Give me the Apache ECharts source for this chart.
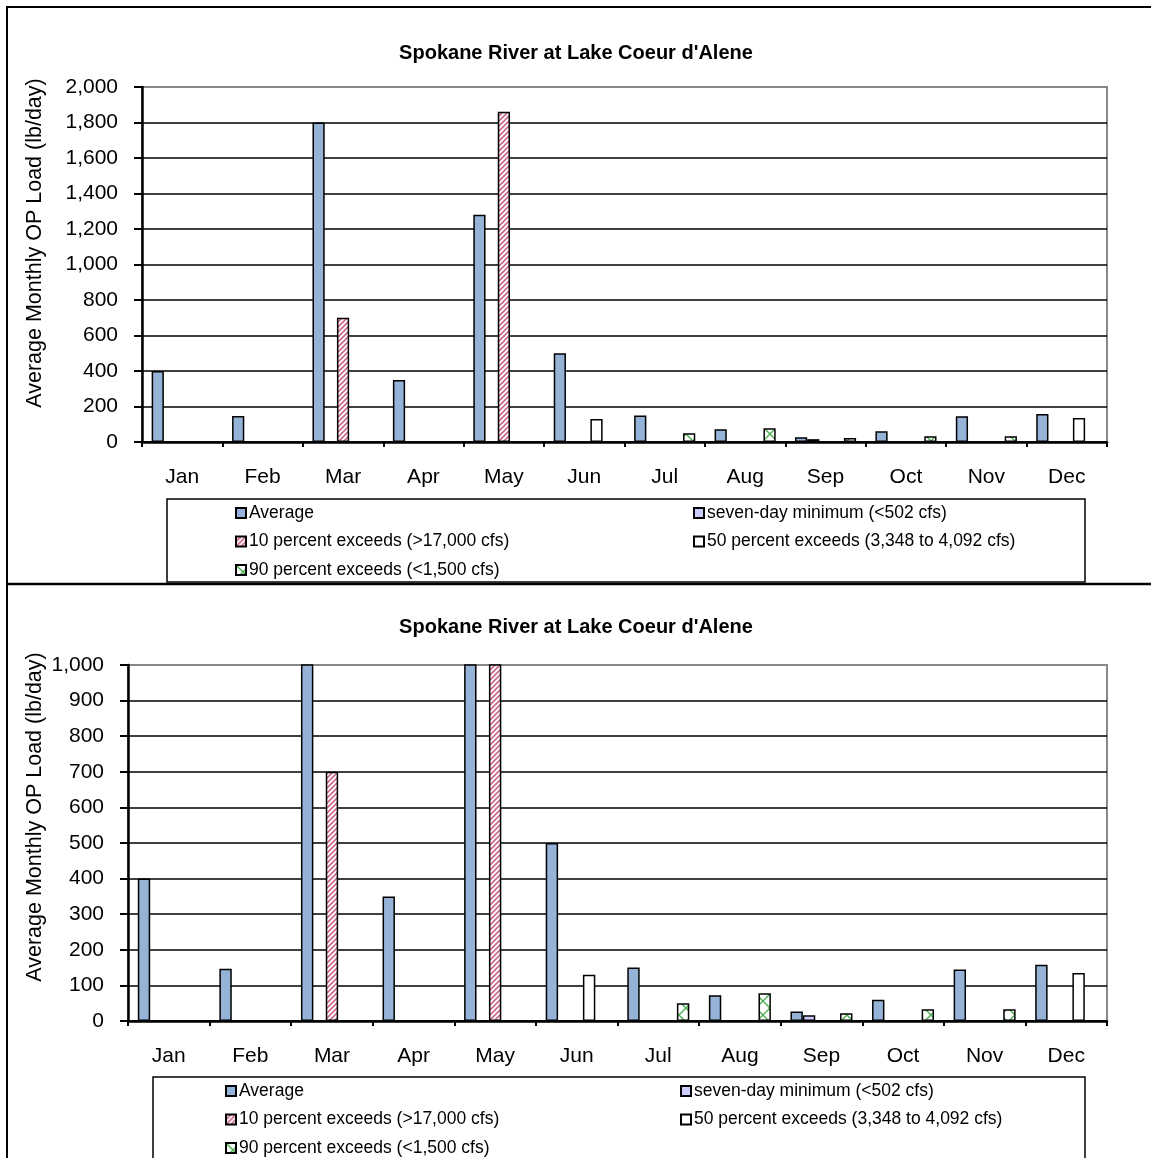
<!DOCTYPE html>
<html>
<head>
<meta charset="utf-8">
<script src="https://cdn.jsdelivr.net/npm/echarts@6/dist/echarts.min.js"></script>
<style>
  html, body { margin: 0; padding: 0; background: #fff; }
  #chart { width: 1151px; height: 1158px; }
</style>
</head>
<body>
<div id="chart"></div>
<script>
var months = ['Jan', 'Feb', 'Mar', 'Apr', 'May', 'Jun', 'Jul', 'Aug', 'Sep', 'Oct', 'Nov', 'Dec'];
var average = [400, 147, 1800, 350, 1280, 500, 150, 72, 27, 60, 145, 158];
var sevenDay = [null, null, null, null, null, null, null, null, 16, null, null, null];
var tenPct = [null, null, 700, null, 1860, null, null, null, null, null, null, null];
var fiftyPct = [null, null, null, null, null, 130, null, null, null, null, null, 135];
var ninetyPct = [null, null, null, null, null, null, 50, 78, 22, 33, 33, null];
var seriesNames = [
  'Average',
  'seven-day minimum (<502 cfs)',
  '10 percent exceeds (>17,000 cfs)',
  '50 percent exceeds (3,348 to 4,092 cfs)',
  '90 percent exceeds (<1,500 cfs)'
];
var titleText = "Spokane River at Lake Coeur d'Alene";
var yName = 'Average Monthly OP Load (lb/day)';

var FONT = '"Liberation Sans", Arial, sans-serif';
var myChart = echarts.init(document.getElementById('chart'));

// hatch fills like the excel patterns
function hatch(kind) {
  var c = document.createElement('canvas');
  var s = kind == 'red' ? 5 : 14;
  c.width = s; c.height = s;
  var ctx = c.getContext('2d');
  ctx.fillStyle = '#fff';
  ctx.fillRect(0, 0, s, s);
  if (kind == 'red') {
    ctx.strokeStyle = '#cc6688';
    ctx.lineWidth = 1.6;
    ctx.beginPath();
    ctx.moveTo(-1, s + 1); ctx.lineTo(s + 1, -1);
    ctx.moveTo(-1, 1); ctx.lineTo(1, -1);
    ctx.moveTo(s - 1, s + 1); ctx.lineTo(s + 1, s - 1);
    ctx.stroke();
  } else {
    ctx.strokeStyle = '#4caf50';
    ctx.lineWidth = 1.4;
    ctx.beginPath();
    ctx.moveTo(0, 0); ctx.lineTo(s, s);
    ctx.moveTo(0, s); ctx.lineTo(s, 0);
    ctx.stroke();
  }
  return c;
}

var fills = [
  '#95b3d7',
  '#ccccff',
  { image: hatch('red'), repeat: 'repeat' },
  '#ffffff',
  { image: hatch('green'), repeat: 'repeat' }
];
var dataSets = [average, sevenDay, tenPct, fiftyPct, ninetyPct];

function makeSeries(idx) {
  var out = [];
  dataSets.forEach(function (d, i) {
    out.push({
      name: seriesNames[i],
      type: 'bar',
      xAxisIndex: idx,
      yAxisIndex: idx,
      barGap: '0%',
      barCategoryGap: '24%',
      clip: true,
      itemStyle: { color: fills[i], borderColor: '#000', borderWidth: 1.5 },
      data: d
    });
  });
  return out;
}

function xAx(idx) {
  return {
    type: 'category',
    gridIndex: idx,
    data: months,
    axisLine: { lineStyle: { color: '#000', width: 2.5 } },
    axisTick: { show: true, length: 5, lineStyle: { color: '#000', width: 2 } },
    axisLabel: { color: '#000', fontSize: 21, fontFamily: FONT, margin: 25 },
    splitLine: { show: false }
  };
}

function yAx(idx, max, step) {
  return {
    type: 'value',
    gridIndex: idx,
    min: 0,
    max: max,
    interval: step,
    axisLine: { show: true, lineStyle: { color: '#000', width: 2.5 } },
    axisTick: { show: true, length: 8, lineStyle: { color: '#000', width: 2 } },
    axisLabel: {
      color: '#000', fontSize: 21, fontFamily: FONT, margin: 24,
      formatter: function (v) { return v.toLocaleString('en-US'); }
    },
    splitLine: { show: true, showMaxLine: false, lineStyle: { color: '#000', width: 1.5 } }
  };
}

function legendCols(left1, left2, top) {
  var base = {
    orient: 'vertical',
    icon: 'rect',
    itemWidth: 10,
    itemHeight: 10,
    itemGap: 10.5,
    padding: 0,
    selectedMode: false,
    textStyle: { color: '#000', fontSize: 17.5, fontFamily: FONT, padding: [0, 0, 0, -2] }
  };
  return [
    Object.assign({}, base, { left: left1, top: top, data: [seriesNames[0], seriesNames[2], seriesNames[4]] }),
    Object.assign({}, base, { left: left2, top: top, data: [seriesNames[1], seriesNames[3]] })
  ];
}

var option = {
  backgroundColor: '#fff',
  animation: false,
  title: [
    { text: titleText, left: 571, top: 38, textAlign: 'center',
      textStyle: { fontSize: 20, fontWeight: 'bold', color: '#000', fontFamily: FONT } },
    { text: titleText, left: 571, top: 612, textAlign: 'center',
      textStyle: { fontSize: 20, fontWeight: 'bold', color: '#000', fontFamily: FONT } }
  ],
  grid: [
    { left: 142, right: 44, top: 87, height: 355, show: true, borderColor: '#888', borderWidth: 2 },
    { left: 128, right: 44, top: 665, height: 356, show: true, borderColor: '#888', borderWidth: 2 }
  ],
  xAxis: [xAx(0), xAx(1)],
  yAxis: [yAx(0, 2000, 200), yAx(1, 1000, 100)],
  legend: legendCols(235, 693, 504).concat(legendCols(225, 680, 1082)),
  graphic: [
    { type: 'rect', shape: { x: 7, y: 7, width: 1160, height: 1170 }, style: { fill: 'none', stroke: '#000', lineWidth: 2 } },
    { type: 'line', shape: { x1: 7, y1: 584, x2: 1151, y2: 584 }, style: { stroke: '#000', lineWidth: 2.5 } },
    { type: 'rect', shape: { x: 167, y: 499, width: 918, height: 83 }, style: { fill: 'none', stroke: '#000', lineWidth: 1.5 } },
    { type: 'rect', shape: { x: 153, y: 1077, width: 932, height: 100 }, style: { fill: 'none', stroke: '#000', lineWidth: 1.5 } },
    { type: 'text', x: 35, y: 243, rotation: Math.PI / 2,
      style: { text: yName, fontSize: 21.5, fontFamily: FONT, fill: '#000', align: 'center', verticalAlign: 'middle' } },
    { type: 'text', x: 35, y: 817, rotation: Math.PI / 2,
      style: { text: yName, fontSize: 21.5, fontFamily: FONT, fill: '#000', align: 'center', verticalAlign: 'middle' } }
  ],
  series: makeSeries(0).concat(makeSeries(1))
};

myChart.setOption(option);
</script>
</body>
</html>
